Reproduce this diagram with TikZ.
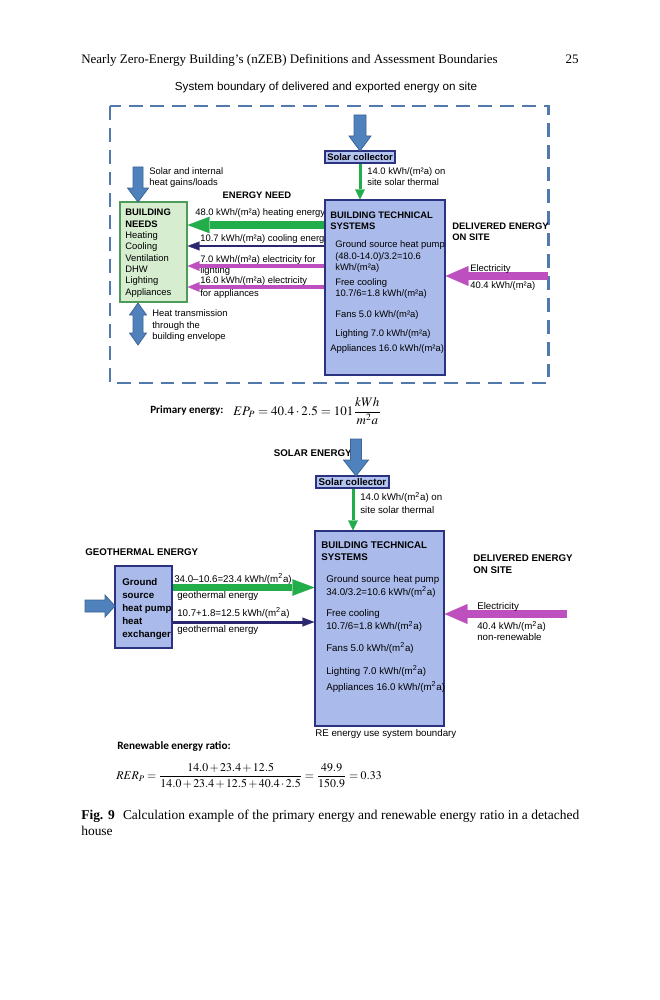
\documentclass[tikz,border=0pt]{standalone}
\usepackage{mathptmx}
\usepackage[no-math]{fontspec}
\setmainfont{Liberation Serif}
\setsansfont{Liberation Sans}
\newfontfamily\calibri{Carlito}
\usetikzlibrary{arrows.meta,fit,calc}
\definecolor{barrowfill}{HTML}{4F81BD}
\definecolor{barrowdraw}{HTML}{3C6494}
\definecolor{btsfill}{HTML}{AABBEB}
\definecolor{btsdraw}{HTML}{2B3380}
\definecolor{scfill}{HTML}{B4C4F0}
\definecolor{bnfill}{HTML}{D6EDD0}
\definecolor{bndraw}{HTML}{4E9A58}
\definecolor{greenA}{HTML}{22AD4B}
\definecolor{navyA}{HTML}{2A2770}
\definecolor{magA}{HTML}{BE4FBE}
\definecolor{bndcol}{HTML}{5279AC}
\newcommand\fstrut{\rule{0pt}{1em}}
% style, x, ytop, ytip, shaft width, head width, head length (signed)
\newcommand\vblockarrow[7]{%
  \filldraw[#1] ({#2-#5/2},#3) -- ({#2+#5/2},#3) -- ({#2+#5/2},{#4-#7}) -- ({#2+#6/2},{#4-#7}) -- (#2,#4) -- ({#2-#6/2},{#4-#7}) -- ({#2-#5/2},{#4-#7}) -- cycle;}
% style, y, xstart, xtip, shaft width, head width, head length (signed)
\newcommand\hblockarrow[7]{%
  \filldraw[#1] (#3,{#2-#5/2}) -- ({#4-#7},{#2-#5/2}) -- ({#4-#7},{#2-#6/2}) -- (#4,#2) -- ({#4-#7},{#2+#6/2}) -- ({#4-#7},{#2+#5/2}) -- (#3,{#2+#5/2}) -- cycle;}
\begin{document}
\begin{tikzpicture}[x=0.235mm,y=-0.235mm,
  txt/.style={font=\sffamily\fontsize{6.3}{7.6}\selectfont, inner sep=0pt, anchor=north west, align=left},
  txtb/.style={txt, font=\sffamily\bfseries\fontsize{6.3}{7.6}\selectfont},
  one/.style={txt, anchor=base west},
  txtl/.style={font=\sffamily\fontsize{6.5}{8}\selectfont, inner sep=0pt, anchor=north west, align=left},
  txtlb/.style={txtl, font=\sffamily\bfseries\fontsize{6.5}{8}\selectfont},
  onel/.style={txtl, anchor=base west},
  hdr/.style={font=\fontsize{8.7}{11}\selectfont, inner sep=0pt},
  blockarrow/.style={fill=barrowfill, draw=barrowdraw, line width=0.5pt, line join=miter},
  bnbox/.style={draw=bndraw, fill=bnfill, line width=0.8pt, inner sep=0pt},
  btsbox/.style={draw=btsdraw, fill=btsfill, line width=0.8pt, inner sep=0pt},
  scbox/.style={draw=btsdraw, fill=scfill, line width=0.8pt, inner sep=0pt},
  boundary/.style={draw=bndcol, line width=2pt, dash pattern=on 9.3pt off 5.3pt},
  greenthin/.style={draw=greenA, line width=2pt, -{Triangle[length=6.7pt,width=6.5pt,line width=0.2pt]}},
  greenthick/.style={draw=greenA, line width=4.7pt, -{Triangle[length=14.7pt,width=11pt,line width=0.2pt]}},
  navythin/.style={draw=navyA, line width=2pt, -{Triangle[length=8pt,width=6pt,line width=0.2pt]}},
  magthin/.style={draw=magA, line width=2.3pt, -{Triangle[length=8pt,width=6.5pt,line width=0.2pt]}},
  magthick/.style={draw=magA, line width=4.7pt, -{Triangle[length=15.3pt,width=13.3pt,line width=0.2pt]}}
]
\fill[white] (0,0) rectangle (659,1000);
\useasboundingbox (0,0) rectangle (659,1000);

% running head
\node[hdr, anchor=base west] (hdr) at (81,64) {Nearly Zero-Energy Building’s (nZEB) Definitions and Assessment Boundaries};
\node[hdr, anchor=base east] (pgnum) at (579,64) {25};

% ================= upper figure =================
\node[font=\sffamily\fontsize{7.8}{9}\selectfont, inner sep=0pt] (title) at (326,87) {System boundary of delivered and exported energy on site};
\draw[boundary] (110,106) rectangle (548,383);

% building needs
\node[bnbox, fit={(120,202) (187,302)}] (bn) {};
\node[txt] (bnt) at (125,206) {\fstrut\textbf{BUILDING}\\\textbf{NEEDS}\\Heating\\Cooling\\Ventilation\\DHW\\Lighting\\Appliances};
\vblockarrow{blockarrow}{138}{167}{202}{10}{21}{14}
\node[txt, font=\sffamily\fontsize{6.3}{7.3}\selectfont] (gains) at (149,165) {\fstrut Solar and internal\\heat gains/loads};
\node[txtb, anchor=base] (eneed) at (257,198.4) {ENERGY NEED};
% heat transmission double arrow
\filldraw[blockarrow] (138,303) -- (146.5,315) -- (143,315) -- (143,333) -- (146.5,333) -- (138,345) -- (129.5,333) -- (133,333) -- (133,315) -- (129.5,315) -- cycle;
\node[txt, font=\sffamily\fontsize{6.3}{7.7}\selectfont] (htlbl) at (152,307) {\fstrut Heat transmission\\through the\\building envelope};

% solar collector
\node[scbox, fit={(325,151) (395,163)}] (sc) {};
\node[txtb, anchor=center] (sct) at (sc.center) {Solar collector};
\vblockarrow{blockarrow}{360}{115}{151}{12}{22}{15}
\node[txt, font=\sffamily\fontsize{6.3}{7.3}\selectfont] (soltxt) at (367,165) {\fstrut 14.0 kWh/(m²a) on\\site solar thermal};

% labels of the arrows between systems and needs
\node[one] (heatlbl) at (195,215.4) {48.0 kWh/(m²a) heating energy};
\node[one] (coollbl) at (200,241.4) {10.7 kWh/(m²a) cooling energ};
\node[txt, font=\sffamily\fontsize{6.3}{7.3}\selectfont] (lightlbl) at (200,253) {\fstrut 7.0 kWh/(m²a) electricity for\\lighting};
\node[txt, font=\sffamily\fontsize{6.3}{8.7}\selectfont] (appllbl) at (200,274) {\fstrut 16.0 kWh/(m²a) electricity\\for appliances};

% building technical systems
\node[btsbox, fit={(325,200) (445,375)}] (bts) {};
\draw[greenthin] (sc.south) -- (sc.south |- bts.north);
\node[txtb, font=\sffamily\bfseries\fontsize{6.3}{7.3}\selectfont] (btst) at (330,209) {\fstrut BUILDING TECHNICAL\\SYSTEMS};
\node[txt, font=\sffamily\fontsize{6.3}{7.7}\selectfont] (gshp) at (335,238) {\fstrut Ground source heat pump\\(48.0-14.0)/3.2=10.6\\kWh/(m²a)};
\node[txt, font=\sffamily\fontsize{6.3}{7.5}\selectfont] (fc) at (335,276) {\fstrut Free cooling\\10.7/6=1.8 kWh/(m²a)};
\node[one] (fans) at (335,317.4) {Fans 5.0 kWh/(m²a)};
\node[one] (light) at (335,336.4) {Lighting 7.0 kWh/(m²a)};
\node[one] (appl) at (330,351.4) {Appliances 16.0 kWh/(m²a)};

\coordinate (yheat) at (0,225);
\coordinate (ycool) at (0,246);
\coordinate (ylight) at (0,266);
\coordinate (yappl) at (0,287);
\draw[greenthick] (bts.west |- yheat) -- (bn.east |- yheat);
\draw[navythin] (bts.west |- ycool) -- (bn.east |- ycool);
\draw[magthin] (bts.west |- ylight) -- (bn.east |- ylight);
\draw[magthin] (bts.west |- yappl) -- (bn.east |- yappl);

% delivered energy
\node[txtb, font=\sffamily\bfseries\fontsize{6.3}{7.3}\selectfont] (deliv) at (452,220) {\fstrut DELIVERED ENERGY\\ON SITE};
\coordinate (elstart) at (548,276);
\draw[magthick] (elstart) -- (bts.east |- elstart);
\node[one] (elec) at (470,271.4) {Electricity};
\node[one] (elval) at (470,288.4) {40.4 kWh/(m²a)};

% primary energy
\node[font=\calibri\bfseries\fontsize{7.4}{9}\selectfont, inner sep=0pt, anchor=west] (prim) at (150,411) {Primary energy:};
\node[font=\fontsize{8.7}{11}\selectfont, inner sep=0pt, anchor=west] (ep) at (233,411) {\thickmuskip=4mu $EP_P=40.4\cdot 2.5=101\displaystyle\frac{kWh}{m^2a}$};

% ================= lower figure =================
\node[txtlb, anchor=base east] (solE) at (352,456.4) {SOLAR ENERGY};
\node[scbox, fit={(316,476) (389,488)}] (sc2) {};
\node[txtlb, anchor=center] (sc2t) at (sc2.center) {Solar collector};
\vblockarrow{blockarrow}{356}{439}{476}{11}{25}{16}
\node[txtl, font=\sffamily\fontsize{6.5}{8.7}\selectfont] (soltxt2) at (360,490.6) {\fstrut 14.0 kWh/(m\textsuperscript{2}a) on\\site solar thermal};

\node[btsbox, fit={(315,531) (444,726)}] (bts2) {};
\draw[greenthin] (sc2.south -| 353,0) -- (bts2.north -| 353,0);
\node[txtlb] (bts2t) at (321,538.6) {\fstrut BUILDING TECHNICAL\\SYSTEMS};
\node[txtl, font=\sffamily\fontsize{6.5}{8.3}\selectfont] (gshp2) at (326,572.6) {\fstrut Ground source heat pump\\34.0/3.2=10.6 kWh/(m\textsuperscript{2}a)};
\node[txtl, font=\sffamily\fontsize{6.5}{8.7}\selectfont] (fc2) at (326,606.6) {\fstrut Free cooling\\10.7/6=1.8 kWh/(m\textsuperscript{2}a)};
\node[onel] (fans2) at (326,651.4) {Fans 5.0 kWh/(m\textsuperscript{2}a)};
\node[onel] (light2) at (326,674.4) {Lighting 7.0 kWh/(m\textsuperscript{2}a)};
\node[onel] (appl2) at (326,690.4) {Appliances 16.0 kWh/(m\textsuperscript{2}a)};
\node[onel] (reb) at (315,736.4) {RE energy use system boundary};

\node[txtlb] (deliv2) at (473,551.6) {\fstrut DELIVERED ENERGY\\ON SITE};
\coordinate (el2start) at (567,614);
\draw[magthick] (el2start) -- (bts2.east |- el2start);
\node[onel] (elec2) at (477,609.4) {Electricity};
\node[txtl, font=\sffamily\fontsize{6.5}{7.3}\selectfont] (elval2) at (477,619.6) {\fstrut 40.4 kWh/(m\textsuperscript{2}a)\\non-renewable};

% geothermal
\node[txtlb, anchor=base west] (geoE) at (85,555.4) {GEOTHERMAL ENERGY};
\node[btsbox, fit={(115,566) (172,648)}] (gs) {};
\node[txtlb, font=\sffamily\bfseries\fontsize{6.5}{8.7}\selectfont] (gst) at (122,575.6) {\fstrut Ground\\source\\heat pump\\heat\\exchanger};
\hblockarrow{blockarrow}{606}{85}{115}{12}{22}{10}
\coordinate (ygeo1) at (0,587.5);
\coordinate (ygeo2) at (0,622);
\node[onel] (geo1) at (174,582.5) {34.0–10.6=23.4 kWh/(m\textsuperscript{2}a)};
\node[onel] (geo1b) at (177,598) {geothermal energy};
\node[onel] (geo2) at (177,616) {10.7+1.8=12.5 kWh/(m\textsuperscript{2}a)};
\node[onel] (geo2b) at (177,632) {geothermal energy};
\draw[greenthick] (gs.east |- ygeo1) -- (bts2.west |- ygeo1);
\draw[navythin] (gs.east |- ygeo2) -- (bts2.west |- ygeo2);

% renewable energy ratio
\node[font=\calibri\bfseries\fontsize{7.5}{9}\selectfont, inner sep=0pt, anchor=west] (renew) at (117,746) {Renewable energy ratio:};
\node[font=\fontsize{7.9}{9.5}\selectfont, inner sep=0pt, anchor=west] (rer) at (116,776) {\medmuskip=2mu \thickmuskip=3.5mu $\displaystyle RER_P=\frac{14.0+23.4+12.5}{14.0+23.4+12.5+40.4\cdot 2.5}=\frac{49.9}{150.9}=0.33$};

% caption
\node[font=\fontsize{9}{10.5}\selectfont, inner sep=0pt, anchor=north west, text width=117mm, align=justify] (cap) at (81,810) {\textbf{Fig. 9}\hspace{0.6em}Calculation example of the primary energy and renewable energy ratio in a detached house};
\end{tikzpicture}
\end{document}
